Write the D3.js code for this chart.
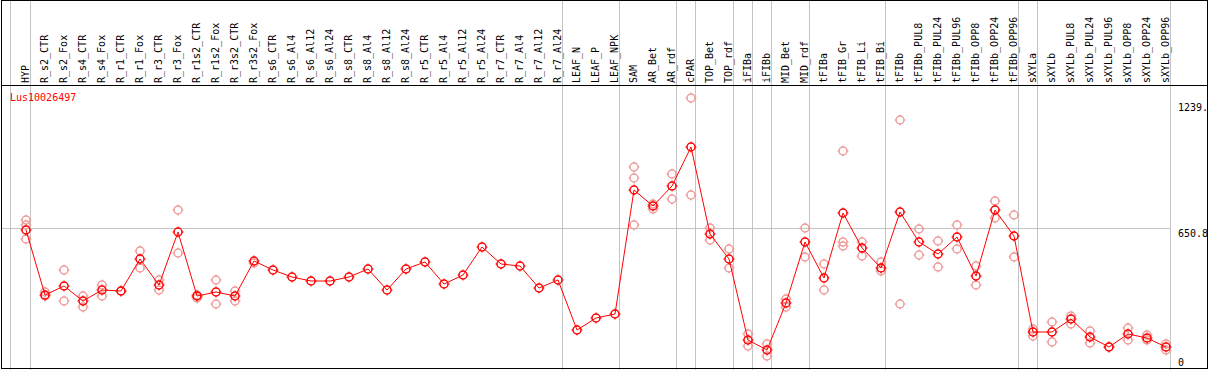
<!DOCTYPE html>
<html>
<head>
<meta charset="utf-8">
<script src="https://cdnjs.cloudflare.com/ajax/libs/d3/7.8.5/d3.min.js"></script>
<style>
  body { margin: 0; background: #fff; }
  svg { display: block; }
  text { font-family: "DejaVu Sans Mono", monospace; font-size: 10px; }
</style>
</head>
<body>
<svg id="chart"></svg>
<script>
const categories = ["HYP","R_s2_CTR","R_s2_Fox","R_s4_CTR","R_s4_Fox","R_r1_CTR","R_r1_Fox","R_r3_CTR","R_r3_Fox",
  "R_r1s2_CTR","R_r1s2_Fox","R_r3s2_CTR","R_r3s2_Fox","R_s6_CTR","R_s6_Al4","R_s6_Al12","R_s6_Al24",
  "R_s8_CTR","R_s8_Al4","R_s8_Al12","R_s8_Al24","R_r5_CTR","R_r5_Al4","R_r5_Al12","R_r5_Al24",
  "R_r7_CTR","R_r7_Al4","R_r7_Al12","R_r7_Al24","LEAF_N","LEAF_P","LEAF_NPK","SAM","AR_Bet","AR_rdf",
  "cPAR","TOP_Bet","TOP_rdf","iFIBa","iFIBb","MID_Bet","MID_rdf","tFIBa","tFIB_Gr","tFIB_Li","tFIB_Bi",
  "tFIBb","tFIBb_PUL8","tFIBb_PUL24","tFIBb_PUL96","tFIBb_OPP8","tFIBb_OPP24","tFIBb_OPP96",
  "sXYLa","sXYLb","sXYLb_PUL8","sXYLb_PUL24","sXYLb_PUL96","sXYLb_OPP8","sXYLb_OPP24","sXYLb_OPP96"];

const means = [641,340,380,312,361,359,506,386,632,333,
  353,333,496,456,422,404,404,422,459,362,
  459,493,390,431,563,484,473,372,408,174,
  231,249,828,755,847,1029,624,506,127,80,
  300,585,420,721,559,464,726,585,531,610,
  426,735,613,166,166,227,143,96,157,138,96];

const replicates = [
  [690,666,599],[353,333],[454,309],[333,283],[387,333],[359],[543,464],[411,361],[735,534],[340,325],
  [408,295],[359,309],[488],[],[],[],[],[],[],[],
  [],[],[],[],[],[],[],[],[],[],
  [],[],[936,884,665],[766,742],[903,786],[1258,805],[652,596],[553,464],[157,99],[110,52],
  [322,281],[652,515],[484,361],[1011,587,567],[587,520],[492,453],[1156,295],[646,524],[593,468],[665,553],
  [473,386],[777,699],[712,515],[181,146],[211,118],[242,203],[172,115],[96],[185,129],[151,129],[110,82]
];

// a grey separator is drawn after each of these
const groupEnds = ["HYP","R_r7_Al24","LEAF_NPK","AR_rdf","cPAR","TOP_rdf","iFIBa","iFIBb","MID_rdf",
  "tFIB_Bi","tFIBb_OPP96","sXYLa","sXYLb_OPP96"];

const tickValues = [1239, 650.8, 0];
const tickLabels = ["1239.", "650.8", "0"];
const gridValue = 650.8;
const geneName = "Lus10026497";

var width = 1209, height = 370;
var headerH = 85;

var svg = d3.select("#chart")
  .attr("width", width)
  .attr("height", height);

var x = d3.scalePoint()
  .domain(categories)
  .range([26, 1166]);

var y = d3.scaleLinear()
  .domain([0, 1239])
  .range([367.5, 102.5]);

var plotRight = x(categories[categories.length - 1]) + 4.5;

// vertical separators
var seps = [x(categories[0]) - 15.5].concat(groupEnds.map(c => x(c) + 4.5));
svg.append("g")
  .selectAll("line")
  .data(seps)
  .enter().append("line")
  .attr("x1", d => d).attr("x2", d => d)
  .attr("y1", 0).attr("y2", height)
  .attr("stroke", "#c4c4c4")
  .attr("stroke-width", 1);

// horizontal grid line
svg.append("line")
  .attr("x1", 1.5).attr("x2", plotRight)
  .attr("y1", Math.round(y(gridValue)) + 0.5).attr("y2", Math.round(y(gridValue)) + 0.5)
  .attr("stroke", "#c4c4c4");

// frame
svg.append("rect")
  .attr("x", 1.5).attr("y", 0.5)
  .attr("width", width - 3).attr("height", height - 2)
  .attr("fill", "none")
  .attr("stroke", "#000");

svg.append("line")
  .attr("x1", 1.5).attr("x2", width - 1.5)
  .attr("y1", headerH + 0.5).attr("y2", headerH + 0.5)
  .attr("stroke", "#000");

// column labels
svg.append("g")
  .selectAll("text")
  .data(categories)
  .enter().append("text")
  .attr("transform", d => "translate(" + (x(d) + 2.5) + "," + (headerH - 2) + ") rotate(-90)")
  .attr("fill", "#000")
  .text(d => d);

// right-hand value labels
svg.append("g")
  .selectAll("text")
  .data(tickValues)
  .enter().append("text")
  .attr("x", 1178)
  .attr("y", d => Math.min(y(d) + 8.5, 366))
  .attr("fill", "#000")
  .text((d, i) => tickLabels[i]);

svg.append("text")
  .attr("x", 10).attr("y", 101)
  .attr("fill", "#ff0000")
  .text(geneName);

function marker(g, cx, cy, col) {
  var r = 4;
  g.append("circle")
    .attr("cx", cx).attr("cy", cy).attr("r", r)
    .attr("fill", "none")
    .attr("stroke", col)
    .attr("stroke-width", 1.5);
  g.append("path")
    .attr("d", "M" + cx + "," + (cy - r - 1.5) + "v1.5" +
               "M" + cx + "," + (cy + r) + "v1.5" +
               "M" + (cx - r - 1.5) + "," + cy + "h1.5" +
               "M" + (cx + r) + "," + cy + "h1.5")
    .attr("stroke", col)
    .attr("stroke-width", 1);
}

// replicate points
var repG = svg.append("g");
replicates.forEach(function(reps, i) {
  reps.forEach(function(v) {
    marker(repG, x(categories[i]), Math.round(y(v)), "#ef9a9a");
  });
});

// mean line
var line = d3.line()
  .x((d, i) => x(categories[i]))
  .y(d => Math.round(y(d)));

svg.append("path")
  .datum(means)
  .attr("d", line)
  .attr("fill", "none")
  .attr("stroke", "#ff0000")
  .attr("stroke-width", 1);

var meanG = svg.append("g");
means.forEach(function(v, i) {
  marker(meanG, x(categories[i]), Math.round(y(v)), "#ff0000");
});
</script>
</body>
</html>
